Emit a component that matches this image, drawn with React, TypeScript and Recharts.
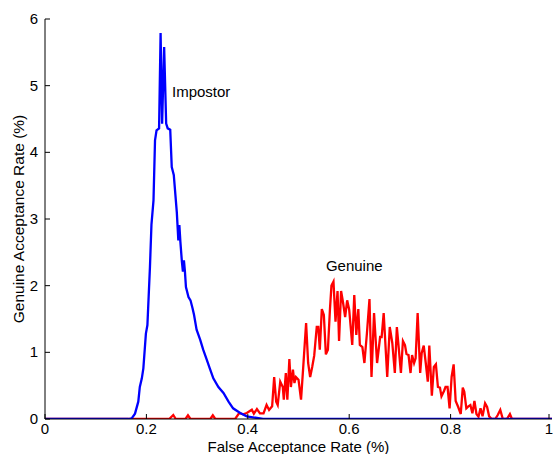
import React from "react";
import { LineChart, Line, XAxis, YAxis, ReferenceDot } from "recharts";

// Impostor distribution (blue)
const impostorX = [
  0, 0.165, 0.171, 0.1775, 0.184, 0.187, 0.191, 0.194, 0.199, 0.202, 0.207, 0.21, 0.214, 0.217,
  0.22, 0.225, 0.228, 0.231, 0.235, 0.239, 0.242, 0.247, 0.25, 0.254, 0.26, 0.263, 0.265, 0.267,
  0.27, 0.272, 0.274, 0.276, 0.278, 0.283, 0.287, 0.291, 0.294, 0.299, 0.306, 0.312, 0.319,
  0.325, 0.332, 0.342, 0.352, 0.362, 0.371, 0.385, 0.398, 0.418, 0.43, 1,
];
const impostorY = [
  0, 0, 0.01, 0.08, 0.26, 0.48, 0.61, 0.76, 1.28, 1.41, 2.28, 2.92, 3.28, 4.18,
  4.33, 4.36, 5.79, 4.43, 5.58, 4.43, 4.36, 4.34, 3.78, 3.66, 3.1, 2.68, 2.91, 2.66,
  2.36, 2.21, 2.38, 2.21, 1.98, 1.83, 1.78, 1.66, 1.56, 1.34, 1.19, 1.04, 0.89,
  0.76, 0.61, 0.48, 0.39, 0.26, 0.16, 0.09, 0.04, 0.015, 0, 0,
];

// Genuine distribution (red)
const genuineX = [
  0, 0.245, 0.253, 0.258, 0.277, 0.282, 0.287, 0.326, 0.331, 0.336, 0.375, 0.383, 0.391, 0.398,
  0.408, 0.412, 0.418, 0.424, 0.431, 0.437, 0.442, 0.448, 0.452, 0.456, 0.459, 0.464, 0.469,
  0.471, 0.475, 0.478, 0.482, 0.485, 0.489, 0.492, 0.495, 0.5, 0.505, 0.509, 0.515, 0.519,
  0.523, 0.527, 0.531, 0.536, 0.539, 0.542, 0.546, 0.55, 0.554, 0.558, 0.562, 0.565, 0.569,
  0.573, 0.577, 0.58, 0.584, 0.588, 0.592, 0.596, 0.6, 0.606, 0.61, 0.614, 0.618, 0.621,
  0.626, 0.63, 0.635, 0.64, 0.644, 0.649, 0.655, 0.661, 0.664, 0.668, 0.675, 0.68, 0.685,
  0.69, 0.694, 0.698, 0.702, 0.706, 0.71, 0.713, 0.717, 0.721, 0.724, 0.728, 0.731, 0.735,
  0.74, 0.743, 0.747, 0.751, 0.755, 0.758, 0.763, 0.767, 0.771, 0.775, 0.779, 0.782, 0.787,
  0.79, 0.794, 0.798, 0.802, 0.806, 0.81, 0.815, 0.82, 0.824, 0.827, 0.831, 0.835, 0.839,
  0.843, 0.847, 0.851, 0.855, 0.859, 0.863, 0.868, 0.872, 0.876, 0.881, 0.888, 0.893, 0.898,
  0.903, 0.911, 0.917, 0.921, 1,
];
const genuineY = [
  0, 0, 0.06, 0, 0, 0.055, 0, 0, 0.055, 0, 0, 0.09, 0.07, 0.09,
  0.14, 0.08, 0.15, 0.085, 0.085, 0.21, 0.135, 0.19, 0.63, 0.26, 0.21, 0.56, 0.48,
  0.29, 0.69, 0.29, 0.9, 0.48, 0.74, 0.54, 0.63, 0.59, 0.29, 0.74, 1.44, 0.84,
  0.63, 0.78, 0.95, 1.38, 1.38, 1.04, 1.65, 1.56, 0.97, 1.04, 1.64, 2.0, 2.06,
  1.46, 1.92, 1.17, 1.92, 1.74, 1.53, 1.78, 1.64, 1.11, 1.86, 1.26, 1.65, 1.11,
  1.08, 0.84, 1.29, 1.8, 0.63, 1.59, 0.84, 1.23, 1.23, 1.59, 0.63, 1.38, 1.14,
  0.69, 1.38, 1.04, 0.69, 1.17, 1.11, 0.975, 0.96, 0.69, 0.96, 0.84, 0.91, 1.59,
  0.69, 0.99, 1.1, 0.84, 0.56, 1.1, 0.35, 0.78, 0.82, 0.48, 0.47, 0.34, 0.42,
  0.48, 0.48, 0.16, 0.63, 0.82, 0.27, 0.18, 0.075, 0.47, 0.41, 0.16, 0.19, 0.21,
  0.085, 0.27, 0.075, 0.035, 0.16, 0.04, 0.235, 0.18, 0.04, 0, 0, 0.06, 0.135,
  0, 0, 0.075, 0, 0,
];

const xTicks = [0, 0.2, 0.4, 0.6, 0.8, 1];
const yTicks = [0, 1, 2, 3, 4, 5, 6];

const impostorData = impostorX.map((x, i) => ({ x, y: impostorY[i] }));
const genuineData = genuineX.map((x, i) => ({ x, y: genuineY[i] }));

const FONT = "'Liberation Sans', Arial, Helvetica, sans-serif";
const TICK = 5;

const fmt = (v: number) => String(v);

const BottomTick = (props: any) => {
  const { x, y, payload } = props;
  return (
    <g>
      <line x1={x} y1={y} x2={x} y2={y - TICK} stroke="#000" />
      <text x={x} y={y + 15} textAnchor="middle" fontSize={15} fontFamily={FONT} fill="#000">
        {fmt(payload.value)}
      </text>
    </g>
  );
};

const TopTick = (props: any) => {
  const { x, y } = props;
  return <line x1={x} y1={y} x2={x} y2={y + TICK} stroke="#000" />;
};

const LeftTick = (props: any) => {
  const { x, y, payload } = props;
  return (
    <g>
      <line x1={x} y1={y} x2={x + TICK} y2={y} stroke="#000" />
      <text x={x - 7} y={y + 5} textAnchor="end" fontSize={15} fontFamily={FONT} fill="#000">
        {fmt(payload.value)}
      </text>
    </g>
  );
};

const RightTick = (props: any) => {
  const { x, y } = props;
  return <line x1={x} y1={y} x2={x - TICK} y2={y} stroke="#000" />;
};

const textLabel = (value: string) => (props: any) => {
  const vb = props.viewBox || {};
  return (
    <text x={vb.x} y={vb.y + 5} fontSize={15} fontFamily={FONT} fill="#000">
      {value}
    </text>
  );
};

export default function App() {
  return (
    <div style={{ position: "absolute", left: 0, top: 0, width: 553, height: 454, background: "#fff" }}>
      <LineChart width={553} height={454} margin={{ top: 19, right: 1, bottom: 0, left: 0 }}>
        <XAxis
          xAxisId="bottom"
          dataKey="x"
          type="number"
          domain={[0, 1]}
          ticks={xTicks}
          allowDataOverflow
          height={35}
          tickSize={0}
          tickMargin={0}
          tick={<BottomTick />}
          axisLine={{ stroke: "#000" }}
          label={{
            content: (p: any) => {
              const vb = p.viewBox;
              return (
                <text x={vb.x + vb.width / 2} y={vb.y + 33} textAnchor="middle" fontSize={15} fontFamily={FONT} fill="#000">
                  False Acceptance Rate (%)
                </text>
              );
            },
          }}
        />
        <XAxis
          xAxisId="top"
          orientation="top"
          type="number"
          domain={[0, 1]}
          ticks={xTicks}
          allowDataOverflow
          height={0}
          tickSize={0}
          tickMargin={0}
          tick={<TopTick />}
          axisLine={{ stroke: "#000" }}
        />
        <YAxis
          yAxisId="left"
          type="number"
          domain={[0, 6]}
          ticks={yTicks}
          allowDataOverflow
          width={45}
          tickSize={0}
          tickMargin={0}
          tick={<LeftTick />}
          axisLine={{ stroke: "#000" }}
          label={{
            content: (p: any) => {
              const vb = p.viewBox;
              const cx = 24;
              const cy = vb.y + vb.height / 2;
              return (
                <text
                  x={cx}
                  y={cy}
                  transform={`rotate(-90, ${cx}, ${cy})`}
                  textAnchor="middle"
                  fontSize={15.5}
                  fontFamily={FONT}
                  fill="#000"
                >
                  Genuine Acceptance Rate (%)
                </text>
              );
            },
          }}
        />
        <YAxis
          yAxisId="right"
          orientation="right"
          type="number"
          domain={[0, 6]}
          ticks={yTicks}
          allowDataOverflow
          width={0}
          tickSize={0}
          tickMargin={0}
          tick={<RightTick />}
          axisLine={{ stroke: "#000" }}
        />
        <Line
          xAxisId="bottom"
          yAxisId="left"
          data={genuineData}
          dataKey="y"
          type="linear"
          stroke="#ff0000"
          strokeWidth={2.3}
          dot={false}
          isAnimationActive={false}
        />
        <Line
          xAxisId="bottom"
          yAxisId="left"
          data={impostorData}
          dataKey="y"
          type="linear"
          stroke="#0000ff"
          strokeWidth={2.3}
          dot={false}
          isAnimationActive={false}
        />
        <ReferenceDot
          xAxisId="bottom"
          yAxisId="left"
          x={0.2505}
          y={4.9}
          r={0}
          fill="none"
          stroke="none"
          label={{ content: textLabel("Impostor") }}
        />
        <ReferenceDot
          xAxisId="bottom"
          yAxisId="left"
          x={0.554}
          y={2.29}
          r={0}
          fill="none"
          stroke="none"
          label={{ content: textLabel("Genuine") }}
        />
      </LineChart>
    </div>
  );
}
